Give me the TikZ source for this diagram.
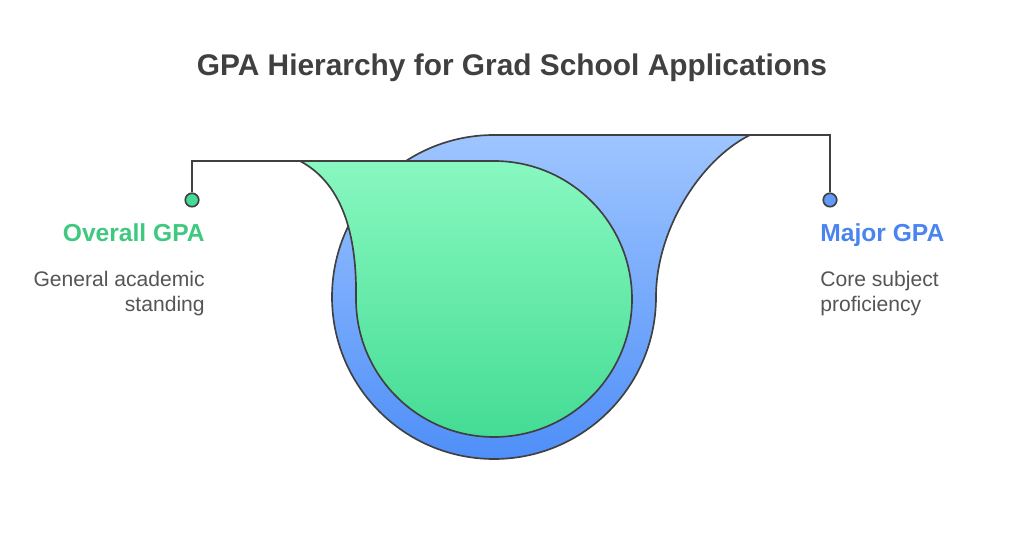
\documentclass[tikz,border=0pt]{standalone}
\usepackage{fontspec}
\setmainfont{Liberation Sans}
\usepackage{tikz}

\definecolor{edgegray}{HTML}{404040}
\definecolor{textgray}{HTML}{555555}
\definecolor{greentop}{HTML}{88F8C0}
\definecolor{greenbot}{HTML}{44DC94}
\definecolor{bluetop}{HTML}{9EC5FF}
\definecolor{bluebot}{HTML}{4F8FF8}
\definecolor{greentext}{HTML}{3EC97F}
\definecolor{bluetext}{HTML}{4A84EE}

\begin{document}
\begin{tikzpicture}[x=0.02cm, y=-0.02cm,
		shape_style/.style={draw=edgegray, line width=0.95pt, line join=round},
		line_style/.style={draw=edgegray, line width=0.95pt},
		dot_style/.style={circle, draw=edgegray, line width=0.95pt, minimum size=13.5*0.02cm, inner sep=0pt},
		head_style/.style={font=\fontsize{14}{17}\selectfont\bfseries, inner sep=0pt},
		desc_style/.style={font=\fontsize{12}{14.2}\selectfont, text=textgray, inner sep=0pt}]
		
		\useasboundingbox (0,0) rectangle (1024,536);
		
		% title
		\node[font=\fontsize{17}{20}\selectfont\bfseries, text=edgegray, anchor=base] (title) at (512,76) {GPA Hierarchy for Grad School Applications};
		
		% blue drop (major GPA)
		\coordinate (b_corner) at (750,135);
		\path[shape_style, top color=bluetop, bottom color=bluebot]
			(b_corner) .. controls (700,160) and (656,230) .. (656,297)
			arc (0:270:162) -- cycle;
		
		% green drop (overall GPA)
		\coordinate (g_corner) at (300,161);
		\path[shape_style, top color=greentop, bottom color=greenbot]
			(g_corner) .. controls (345,185) and (357,240) .. (356,299)
			arc (180:-90:138) -- cycle;
		
		% markers
		\node[dot_style, fill=greenbot] (d_overall) at (192,200) {};
		\node[dot_style, fill=bluebot!90!white] (d_major) at (830,200) {};
		\draw[line_style] (d_overall) |- (g_corner);
		\draw[line_style] (d_major) |- (b_corner);
		
		% labels
		\node[head_style, text=greentext, anchor=base east] (h_overall) at (205,242) {Overall GPA};
		\node[desc_style, align=right, anchor=north east] (t_overall) at (205,271) {General academic\\standing};
		\node[head_style, text=bluetext, anchor=base west] (h_major) at (820,242) {Major GPA};
		\node[desc_style, align=left, anchor=north west] (t_major) at (820,271) {Core subject\\proficiency};
		
\end{tikzpicture}
\end{document}
